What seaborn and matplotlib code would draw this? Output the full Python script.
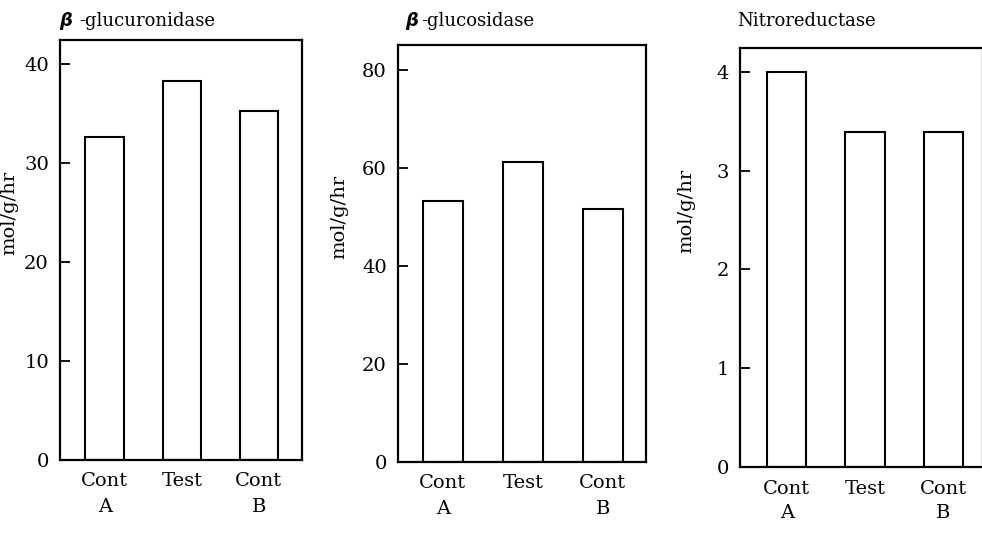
import matplotlib
matplotlib.use("Agg")
import matplotlib.pyplot as plt
import seaborn as sns

# categories shared by all three panels
categories = ["Cont\nA", "Test", "Cont\nB"]

# enzyme activities (mol/g/hr)
glucuronidase = [32.6, 38.3, 35.2]
glucosidase = [53.1, 61.2, 51.5]
nitroreductase = [4.0, 3.39, 3.39]

# y ticks per panel
ticks_1 = [0, 10, 20, 30, 40]
ticks_2 = [0, 20, 40, 60, 80]
ticks_3 = [0, 1, 2, 3, 4]

sns.set_style("white")
plt.rcParams["font.family"] = ["DejaVu Serif"]
plt.rcParams["text.color"] = "black"
plt.rcParams["axes.labelcolor"] = "black"
plt.rcParams["xtick.color"] = "black"
plt.rcParams["ytick.color"] = "black"

W, H = 982, 545
fig = plt.figure(figsize=(W / 100, H / 100), dpi=100)


def px_axes(left, top, right, bottom):
    # axes rectangle from pixel edges
    return fig.add_axes([left / W, 1 - bottom / H, (right - left) / W, (bottom - top) / H])


panels = [
    # values, ticks, ylim top, xlim, box (l, t, r, b), ylabel pos
    (glucuronidase, ticks_1, 42.4, (-0.58, 2.56), (60, 40, 302, 460), (-0.174, 0.588)),
    (glucosidase, ticks_2, 85.0, (-0.56, 2.54), (398, 45, 646, 462), (-0.20, 0.587)),
    (nitroreductase, ticks_3, 4.24, (-0.60, 2.51), (740, 48, 983, 467), (-0.185, 0.61)),
]

for values, ticks, ytop, xlim, box, lab in panels:
    ax = px_axes(*box)
    sns.barplot(x=categories, y=values, ax=ax, color="white", edgecolor="black",
                linewidth=1.5, width=0.5, saturation=1)
    ax.set_ylim(0, ytop)
    ax.set_xlim(*xlim)
    ax.set_yticks(ticks)
    ax.tick_params(axis="y", left=True, direction="in", length=7, width=1.3,
                   pad=8, labelsize=14, colors="black")
    ax.tick_params(axis="x", bottom=False, length=0, pad=9, labelsize=14, colors="black")
    for lbl in ax.get_xticklabels():
        lbl.set_linespacing(1.5)
    for sp in ax.spines.values():
        sp.set_visible(True)
        sp.set_color("black")
        sp.set_linewidth(1.6)
    ax.set_ylabel("mol/g/hr", fontsize=14, color="black")
    ax.yaxis.set_label_coords(*lab)
    ax.set_xlabel("")

# panel titles, beta in bold italic
fig.text(59 / W, 1 - 26 / H, "β", fontsize=13, fontweight="bold", style="italic",
         family=["DejaVu Sans"], va="baseline")
fig.text(79 / W, 1 - 26 / H, "-glucuronidase", fontsize=13, va="baseline")
fig.text(405 / W, 1 - 26 / H, "β", fontsize=13, fontweight="bold", style="italic",
         family=["DejaVu Sans"], va="baseline")
fig.text(421 / W, 1 - 26 / H, "-glucosidase", fontsize=13, va="baseline")
fig.text(737 / W, 1 - 26 / H, "Nitroreductase", fontsize=13, va="baseline")

fig.savefig("out.png", dpi=100, facecolor="white")
